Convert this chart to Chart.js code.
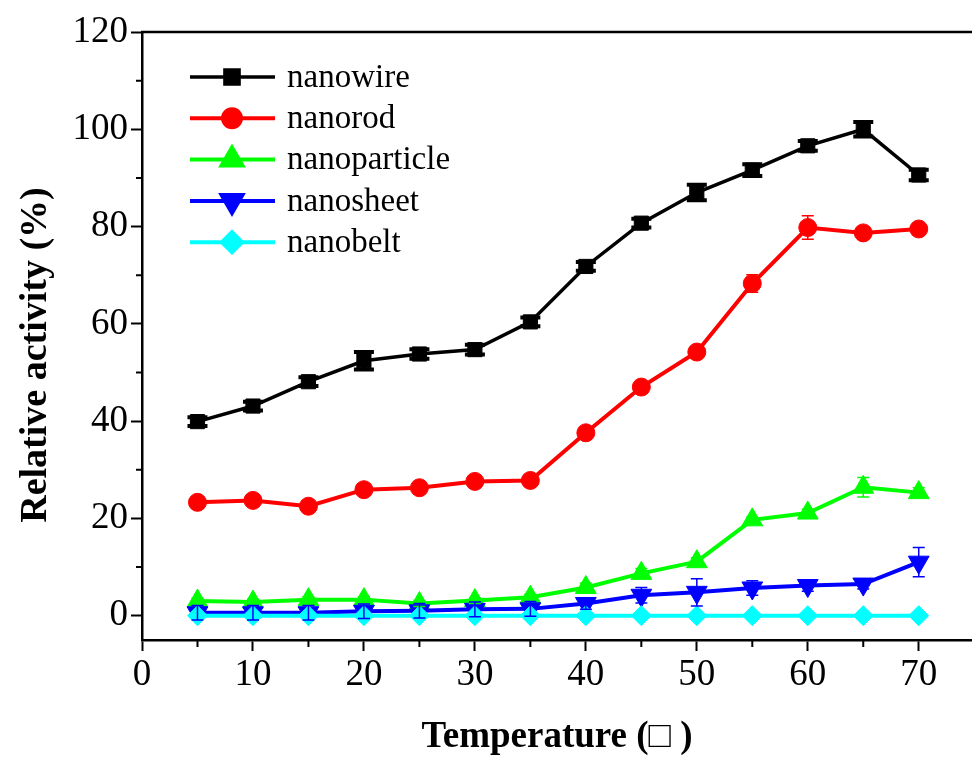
<!DOCTYPE html>
<html><head><meta charset="utf-8">
<script src="https://cdn.jsdelivr.net/npm/chart.js@4.4.0/dist/chart.umd.min.js"></script>
<style>html,body{margin:0;padding:0;background:#fff;overflow:hidden;width:972px;height:759px}canvas{display:block}</style>
</head><body><canvas id="c" width="972" height="759" style="width:972px;height:759px"></canvas>
<script>
// ---- data ----
const temps = [5,10,15,20,25,30,35,40,45,50,55,60,65,70];
const nanowire     = [39.9,43.1,48.1,52.4,53.8,54.7,60.4,71.8,80.7,87.0,91.6,96.6,100.0,90.6];
const nanowireErr  = [0.9,0.9,0.9,1.8,1.0,1.0,0.9,0.9,0.9,1.6,1.2,1.0,1.5,1.1];
const nanorod      = [23.3,23.7,22.5,25.9,26.3,27.6,27.8,37.6,47.0,54.2,68.3,79.8,78.7,79.5];
const nanorodErr   = [0.8,0.7,0.5,0.6,0.6,0.6,0.8,0.6,0.8,0.6,1.8,2.4,0.8,0.5];
const nanoparticle = [3.0,2.8,3.3,3.3,2.5,3.1,3.8,5.8,8.7,11.1,19.7,21.1,26.4,25.3];
const nanoparticleErr = [0.6,0.6,0.6,0.6,0.6,0.6,0.6,0.9,1.0,0.8,0.6,0.8,2.0,1.0];
const nanosheet    = [0.6,0.6,0.6,0.9,1.0,1.3,1.4,2.5,4.2,4.8,5.7,6.2,6.5,11.0];
const nanosheetErr = [1.5,1.5,1.5,1.5,1.5,1.5,1.5,1.2,1.6,2.8,1.5,1.2,1.0,3.0];
const nanobelt     = [0,0,0,0,0,0,0,0,0,0,0,0,0,0];
const seriesNames  = ['nanowire','nanorod','nanoparticle','nanosheet','nanobelt'];
const xTickValues  = [0,10,20,30,40,50,60,70];
const xMinorValues = [5,15,25,35,45,55,65];
const yTickValues  = [0,20,40,60,80,100,120];
const yMinorValues = [10,30,50,70,90,110];
const xTitle = 'Temperature (\u25A1 )';
const yTitle = 'Relative activity (%)';

const FONT = "'Liberation Serif', 'Times New Roman', serif";
const pts = arr => temps.map((t,i)=>({x:t, y:arr[i]}));

function mk(label, vals, errs, color, style, radius, rotation, lw, errW, capHalf, order){
  return {label, data: pts(vals), errors: errs, borderColor: color, backgroundColor: color,
    pointBackgroundColor: color, pointBorderColor: color, pointBorderWidth: 1,
    pointStyle: style, pointRadius: radius, pointRotation: rotation, borderWidth: lw,
    tension: 0, errW, capHalf, order, clip: false};
}
const datasets = [
  mk(seriesNames[0], nanowire, nanowireErr, '#000000', 'rect', 10, 0, 3.5, 4, 10, 5),
  mk(seriesNames[1], nanorod, nanorodErr, '#ff0000', 'circle', 9, 0, 4, 1.5, 6, 4),
  mk(seriesNames[2], nanoparticle, nanoparticleErr, '#00ff00', 'triangle', 12, 0, 4, 1.5, 6, 3),
  mk(seriesNames[3], nanosheet, nanosheetErr, '#0000ff', 'triangle', 12, 180, 4, 1.5, 6, 2),
  mk(seriesNames[4], nanobelt, null, '#00ffff', 'rectRot', 10, 0, 4, 1.5, 6, 1)
];

const decor = {
  id: 'decor',
  afterDatasetsDraw(chart){
    const {ctx, scales:{x, y}} = chart;
    chart.data.datasets.forEach(ds => {
      if (!ds.errors) return;
      ctx.save();
      ctx.strokeStyle = ds.borderColor; ctx.lineWidth = ds.errW;
      ds.data.forEach((p,i) => {
        const e = ds.errors[i]; if (!e) return;
        const px = x.getPixelForValue(p.x);
        const y1 = y.getPixelForValue(p.y + e), y2 = y.getPixelForValue(p.y - e);
        ctx.beginPath();
        ctx.moveTo(px, y1); ctx.lineTo(px, y2);
        ctx.moveTo(px - ds.capHalf, y1); ctx.lineTo(px + ds.capHalf, y1);
        ctx.moveTo(px - ds.capHalf, y2); ctx.lineTo(px + ds.capHalf, y2);
        ctx.stroke();
      });
      ctx.restore();
    });
  },
  afterDraw(chart){
    const {ctx, scales:{x, y}, chartArea:a} = chart;
    ctx.save();
    ctx.strokeStyle = '#000'; ctx.lineWidth = 2.5;
    ctx.beginPath(); ctx.moveTo(a.left - 1, a.top); ctx.lineTo(chart.width, a.top); ctx.stroke();
    ctx.lineWidth = 2;
    ctx.beginPath();
    xMinorValues.forEach(v => { const px = x.getPixelForValue(v); ctx.moveTo(px, a.bottom); ctx.lineTo(px, a.bottom + 7); });
    yMinorValues.forEach(v => { const py = y.getPixelForValue(v); ctx.moveTo(a.left, py); ctx.lineTo(a.left - 6, py); });
    ctx.stroke();
    // legend
    ctx.font = '33px ' + FONT; ctx.textBaseline = 'middle'; ctx.fillStyle = '#000';
    datasets.forEach((ds, i) => {
      const ly = 77 + i * 41.3;
      ctx.strokeStyle = ds.borderColor; ctx.lineWidth = ds.borderWidth;
      ctx.beginPath(); ctx.moveTo(190, ly); ctx.lineTo(275, ly); ctx.stroke();
      ctx.fillStyle = ds.borderColor;
      Chart.helpers.drawPoint(ctx, {pointStyle: ds.pointStyle, radius: ds.pointRadius, rotation: ds.pointRotation, borderWidth: 1}, 232, ly);
      ctx.fillStyle = '#000';
      ctx.fillText(ds.label, 287, ly + 1);
    });
    ctx.restore();
  }
};

new Chart(document.getElementById('c'), {
  type: 'line',
  data: { datasets },
  options: {
    responsive: false, animation: false,
    layout: { autoPadding: false, padding: { top: 32, right: 0, left: 0, bottom: 0 } },
    plugins: { legend: { display: false }, tooltip: { enabled: false } },
    scales: {
      x: {
        type: 'linear', min: 0, max: 74.8,
        afterBuildTicks: s => { s.ticks = xTickValues.map(v => ({value: v})); },
        afterFit: s => { s.height = 119; s.paddingLeft = 0; s.paddingRight = 0; },
        ticks: { color: '#000', font: { family: FONT, size: 37 }, padding: 2, maxRotation: 0, autoSkip: false },
        grid: { drawOnChartArea: false, drawTicks: true, tickLength: 11, tickWidth: 2, color: '#000' },
        border: { display: true, color: '#000', width: 2.5 },
        title: { display: true, text: xTitle, color: '#000', font: { family: FONT, size: 37, weight: 'bold', lineHeight: 1 }, padding: { top: 0, bottom: 3 } }
      },
      y: {
        type: 'linear', min: -5, max: 120,
        afterBuildTicks: s => { s.ticks = yTickValues.map(v => ({value: v})); },
        afterFit: s => { s.width = 142; s.paddingTop = 0; s.paddingBottom = 0; },
        ticks: { color: '#000', font: { family: FONT, size: 37 }, padding: 3, autoSkip: false },
        grid: { drawOnChartArea: false, drawTicks: true, tickLength: 11, tickWidth: 2, color: '#000' },
        border: { display: true, color: '#000', width: 2.5 },
        title: { display: true, text: yTitle + '\u2002\u2002', color: '#000', font: { family: FONT, size: 38, weight: 'bold', lineHeight: 1 }, padding: { top: 17, bottom: 0 } }
      }
    }
  },
  plugins: [decor]
});
</script>
</body></html>
